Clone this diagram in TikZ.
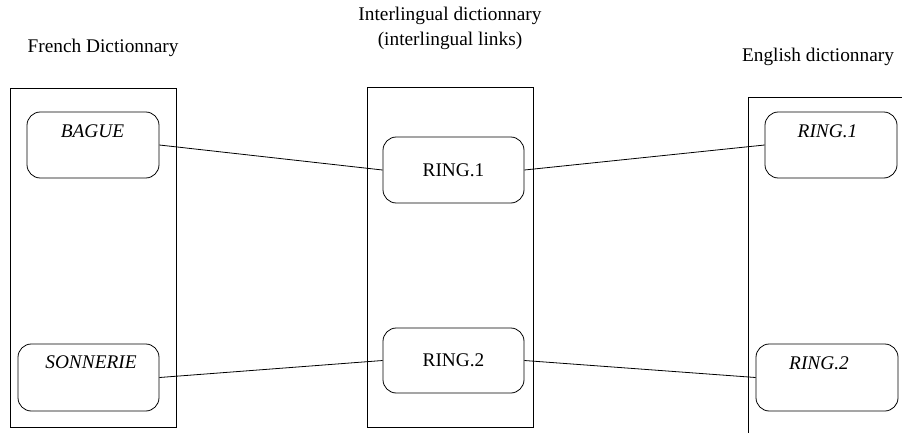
\documentclass[tikz,border=0pt]{standalone}
\usepackage{fontspec}
\setmainfont{Liberation Serif}
\usepackage{tikz}

\begin{document}
\begin{tikzpicture}[x=0.75pt, y=-0.75pt, line width=0.6pt, font=\fontsize{14.5}{18.75}\selectfont,
        entry/.style={draw, rounded corners=10pt, inner sep=0pt},
        title/.style={align=center, inner sep=0pt}]
        \useasboundingbox (0,0) rectangle (902,433);

        % Draw the three dictionaries
        \draw (10,88) rectangle (176,427);   % French
        \draw (367,87) rectangle (533,427);  % Interlingual
        \draw (902,97) -| (748,433);         % English (cut off at the edge)

        % Add the titles above them
        \node[title] (frTitle) at (103,48) {French Dictionnary};
        \node[title] (ilTitle) at (450,28) {Interlingual dictionnary\\(interlingual links)};
        \node[title] (enTitle) at (818,57) {English dictionnary};

        % French entries
        \node[entry, minimum width=132*0.75pt, minimum height=66*0.75pt] (bague) at (93,145) {};
        \node[title] (bagueTxt) at (92.5,131) {\textit{BAGUE}};
        \node[entry, minimum width=141*0.75pt, minimum height=67*0.75pt] (sonnerie) at (88.5,377.5) {};
        \node[title] (sonnerieTxt) at (91,362) {\textit{SONNERIE}};

        % Interlingual entries
        \node[entry, minimum width=141*0.75pt, minimum height=66*0.75pt] (ringA) at (453.5,170) {RING.1};
        \node[entry, minimum width=141*0.75pt, minimum height=65*0.75pt] (ringB) at (453.5,360.5) {RING.2};

        % English entries
        \node[entry, minimum width=132*0.75pt, minimum height=66*0.75pt] (enA) at (831,145) {};
        \node[title] (enATxt) at (827.5,131) {\textit{RING.1}};
        \node[entry, minimum width=142*0.75pt, minimum height=67*0.75pt] (enB) at (827,377.5) {};
        \node[title] (enBTxt) at (819,363) {\textit{RING.2}};

        % Links between the entries
        \draw (bague.east) -- (ringA.west);
        \draw (sonnerie.east) -- (ringB.west);
        \draw (ringA.east) -- (enA.west);
        \draw (ringB.east) -- (enB.west);
    \end{tikzpicture}
\end{document}
